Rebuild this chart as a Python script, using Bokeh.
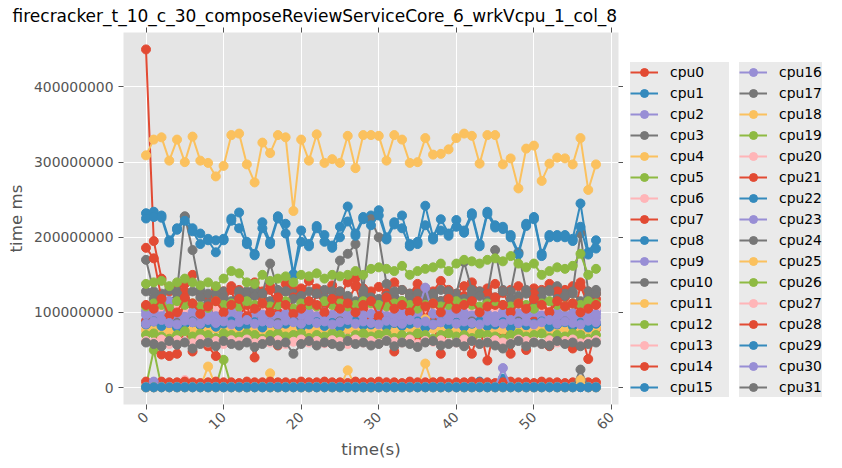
import math
from bokeh.plotting import figure
from bokeh.layouts import row
from bokeh.models import (Range1d, LinearAxis, SingleIntervalTicker, BasicTickFormatter,
                          CustomJSTickFormatter, Legend, LegendItem, ColumnDataSource)
from bokeh.embed import file_html
from bokeh.resources import INLINE

# time axis (seconds)
t = list(range(59))

# values in millions of "time ms"
cpu0 = [450,195,145,128,132,138,150,125,118,132, 128,135,130,124,140,128,135,120,138,130,
        125,142,132,128,136,122,140,145,132,128, 134,126,140,130,125,138,132,128,142,130,
        125,135,140,128,132,138,126,130,135,128, 132,130,138,126,130,135,140,128,125]
cpu1 = [232,234,229,196,212,227,212,205,198,196, 198,225,233,194,178,220,194,228,218,151,
        209,191,215,203,189,214,241,205,227,229, 236,200,220,229,191,194,242,200,224,205,
        223,209,232,191,234,216,214,203,180,218, 227,178,203,203,203,198,245,180,196]
cpu2 = [102,98,105,100,96,104,100,98,103,97, 101,105,99,96,102,100,104,98,101,97,
        103,99,102,96,100,104,98,101,105,99, 97,103,100,98,104,101,96,102,99,103,
        100,97,104,98,101,99,103,96,100,102, 98,104,99,101,97,103,100,98,102]
cpu3 = [170,128,125,130,128,228,183,130,125,120, 128,130,125,128,130,125,165,130,128,125,
        130,128,125,130,128,169,178,191,130,224, 200,138,120,130,125,128,130,125,130,128,
        125,167,130,128,125,183,130,128,179,130, 125,128,130,135,125,128,205,128,130]
cpu4 = [309,330,333,302,330,300,334,302,299,281, 295,336,338,297,273,326,312,336,333,235,
        330,302,337,299,304,299,335,292,336,336, 335,302,336,330,299,300,332,310,311,317,
        332,338,335,298,336,336,297,305,265,318, 322,275,298,306,305,297,332,263,297]
cpu5 = [2,50,1,1,1,1,1,1,1,1, 37,1,1,1,1,1,1,1,1,1,
        1,1,1,1,1,1,1,1,1,1, 1,1,1,1,1,1,1,1,1,1,
        1,1,1,1,1,1,1,1,1,1, 1,1,1,1,1,1,1,1,1]
cpu6 = [108,103,106,101,109,105,102,107,104,106, 101,108,105,104,107,103,106,102,109,105,
        103,107,104,106,100,108,105,103,107,104, 106,102,109,105,103,107,104,106,101,108,
        105,103,107,104,106,102,109,105,103,107, 104,106,101,108,105,103,107,104,106]
cpu7 = [186,172,118,95,60,128,110,72,100,122, 115,130,95,110,75,118,130,100,85,120,
        132,95,125,110,90,128,115,135,105,120, 98,125,112,80,118,130,92,120,115,128,
        100,122,118,95,125,110,128,105,118,95, 125,115,100,128,120,92,135,110,118]
cpu8 = [225,227,226,193,210,222,208,191,196,180, 196,222,212,191,176,212,191,225,205,150,
        194,188,212,194,186,200,221,202,224,216, 229,197,217,212,188,191,216,197,209,202,
        214,206,229,188,231,213,211,200,177,215, 224,175,200,200,200,195,214,177,185]
cpu9 = [90,95,92,96,88,94,91,95,89,93, 96,90,94,92,88,95,91,93,96,89,
        94,90,95,92,88,93,96,91,94,90, 92,95,89,93,91,96,90,94,92,88,
        95,91,93,96,89,94,90,95,92,88, 93,96,91,94,90,92,95,89,93]
cpu10 = [128,118,122,115,125,118,128,120,112,125, 120,115,128,118,122,125,115,120,128,118,
         122,115,125,120,118,128,122,115,125,120, 118,122,128,115,120,125,118,122,115,128,
         120,118,125,122,115,120,128,118,122,125, 115,120,128,118,122,125,115,120,125]
cpu11 = [1,1,1,1,1,1,1,1,28,1, 1,1,1,1,1,1,19,1,1,1,
         1,1,1,1,1,1,23,1,1,1, 1,1,1,1,1,1,32,1,1,1,
         1,1,1,1,1,1,1,1,1,1, 1,1,1,1,1,1,1,1,1]
cpu12 = [138,140,142,135,140,145,140,136,140,135, 145,155,152,140,138,150,142,145,148,140,
         150,148,152,145,150,148,150,155,150,158, 160,158,155,162,150,155,158,160,165,155,
         165,170,168,165,170,172,168,175,165,160, 165,150,155,160,158,162,178,150,158]
cpu13 = [80,83,78,82,85,79,81,84,78,82, 80,85,79,83,81,78,84,80,82,79,
         85,81,78,83,80,84,79,82,81,78, 85,80,83,79,82,84,78,81,80,85,
         79,83,82,78,84,80,81,79,85,82, 78,83,80,84,79,81,82,78,83]
cpu14 = [88,82,44,42,45,78,48,85,55,42, 86,80,74,88,40,84,80,56,86,75,
         90,82,80,60,85,88,78,80,85,90, 75,82,48,80,85,60,80,88,45,85,
         80,70,45,80,36,82,75,45,80,50, 88,82,55,80,85,52,75,38,78]
cpu15 = [0.5,0.5,0.5,0.5,0.5,0.5,0.5,0.5,0.5,0.5, 0.5,0.5,0.5,0.5,0.5,0.5,0.5,0.5,0.5,0.5,
         0.5,0.5,0.5,0.5,0.5,0.5,0.5,0.5,0.5,0.5, 0.5,0.5,0.5,0.5,0.5,0.5,0.5,0.5,0.5,0.5,
         0.5,0.5,0.5,8,0.5,0.5,12,0.5,0.5,0.5, 0.5,0.5,0.5,0.5,0.5,0.5,0.5,0.5,0.5]
cpu16 = [97,100,95,115,98,94,100,96,99,95, 98,101,96,94,99,97,100,95,98,102,
         96,99,94,100,97,95,99,101,96,98, 100,95,97,99,96,101,133,98,95,100,
         97,99,96,101,98,95,100,97,99,96, 101,95,98,100,96,99,97,101,98]
cpu17 = [85,88,82,80,86,84,88,82,85,80, 86,84,82,88,85,80,84,86,82,88,
         84,80,86,85,82,88,84,80,86,82, 85,88,80,84,86,82,88,85,80,84,
         86,82,88,84,80,85,86,82,88,84, 80,86,85,82,88,84,80,86,85]
cpu18 = [76,78,80,75,79,75,77,80,76,78, 79,75,77,80,78,76,79,77,75,80,
         78,76,79,77,80,75,78,76,79,77, 80,78,75,77,79,76,91,78,80,75,
         77,79,76,78,80,75,77,79,78,76, 80,77,75,79,78,76,80,77,79]
cpu19 = [108,112,110,105,115,110,112,108,106,115, 110,112,108,115,110,112,108,110,115,105,
         112,110,108,115,110,112,108,110,115,112, 110,108,112,115,110,105,110,112,108,110,
         115,112,110,108,112,115,110,108,112,110, 105,112,115,110,108,112,110,115,112]
cpu20 = [1,1,1,1,1,10,1,1,1,1, 1,1,1,1,1,1,1,1,1,1,
         1,1,1,1,1,1,1,1,1,1, 1,1,1,1,1,1,1,1,1,1,
         6,1,1,4,1,1,1,1,1,1, 1,1,1,1,1,1,1,1,1]
cpu21 = [8,7,8,7,7,8,7,6,7,8, 7,7,6,8,7,7,8,7,7,6,
         8,7,7,8,7,7,6,8,7,7, 8,7,7,6,8,7,7,7,8,6,
         7,7,8,7,7,6,7,8,7,7, 6,8,7,7,6,7,8,7,7]
cpu22 = [84,88,82,86,80,85,87,83,86,81, 85,88,82,84,87,80,86,83,85,88,
         81,84,87,82,86,80,85,88,83,84, 87,81,86,82,85,88,80,84,87,83,
         86,81,85,88,82,84,87,80,86,83, 85,88,81,84,87,82,86,80,85]
cpu23 = [1,8,1,1,1,1,1,1,1,1, 1,1,1,1,1,1,1,1,1,1,
         1,1,1,1,1,1,1,1,1,1, 1,1,1,1,1,1,1,1,1,1,
         1,1,1,1,1,1,26,1,1,1, 1,1,1,1,1,1,1,1,1]
cpu24 = [0.3,0.3,0.3,0.3,0.3,0.3,0.3,0.3,0.3,0.3, 0.3,0.3,0.3,0.3,0.3,0.3,0.3,0.3,0.3,0.3,
         0.3,0.3,0.3,0.3,0.3,0.3,0.3,0.3,0.3,0.3, 0.3,0.3,0.3,0.3,0.3,0.3,0.3,0.3,0.3,0.3,
         0.3,0.3,0.3,0.3,0.3,0.3,0.3,0.3,0.3,0.3, 0.3,0.3,0.3,0.3,0.3,0.3,24,0.3,0.3]
cpu25 = [0.5,0.5,0.5,0.5,0.5,0.5,0.5,0.5,0.5,0.5, 0.5,0.5,0.5,0.5,0.5,0.5,0.5,0.5,0.5,0.5,
         0.5,0.5,0.5,0.5,0.5,0.5,0.5,0.5,0.5,0.5, 0.5,0.5,0.5,0.5,0.5,0.5,0.5,0.5,0.5,0.5,
         0.5,0.5,0.5,0.5,0.5,0.5,0.5,0.5,0.5,0.5, 0.5,0.5,0.5,0.5,0.5,0.5,10,0.5,0.5]
cpu26 = [70,72,68,65,70,75,68,72,70,66, 72,70,68,72,70,65,70,72,68,70,
         72,66,70,68,72,70,65,70,72,68, 70,72,66,70,68,72,70,65,70,72,
         68,70,66,72,70,68,65,70,72,68, 70,72,66,70,68,72,70,65,70]
cpu27 = [62,60,64,58,63,61,59,64,60,62, 58,63,61,64,59,62,60,63,58,61,
         64,60,62,59,63,61,58,64,60,62, 59,63,61,60,64,58,62,61,63,59,
         60,64,62,58,61,63,60,59,64,62, 61,58,63,60,62,64,59,61,63]
cpu28 = [110,105,118,95,100,120,112,98,108,115, 100,110,118,95,105,112,100,120,110,98,
         105,115,110,100,118,105,112,100,110,115, 95,120,105,110,100,115,108,112,100,118,
         105,110,115,100,108,120,110,100,112,105, 118,110,100,115,108,112,100,105,110]
cpu29 = [0.5,0.5,0.5,0.5,0.5,0.5,0.5,0.5,0.5,0.5, 0.5,0.5,0.5,0.5,0.5,0.5,0.5,0.5,0.5,0.5,
         0.5,0.5,0.5,0.5,0.5,0.5,0.5,0.5,0.5,0.5, 0.5,0.5,0.5,0.5,0.5,0.5,0.5,0.5,0.5,0.5,
         0.5,0.5,0.5,0.5,0.5,0.5,0.5,0.5,0.5,0.5, 0.5,0.5,0.5,0.5,0.5,0.5,0.5,0.5,0.5]
cpu30 = [85,88,90,86,84,89,87,85,90,86, 88,84,87,90,85,88,86,84,89,87,
         85,90,86,88,84,87,90,85,88,86, 84,89,87,85,90,86,88,84,87,90,
         85,88,86,84,89,87,85,90,86,88, 84,87,90,85,88,86,84,89,87]
cpu31 = [60,58,55,62,57,60,52,58,60,55, 62,58,56,60,54,58,62,57,60,45,
         58,62,56,60,58,55,62,58,60,56, 58,62,55,60,58,54,60,62,56,58,
         60,55,62,58,60,56,52,58,62,55, 60,58,56,62,58,60,55,58,60]

series = [cpu0, cpu1, cpu2, cpu3, cpu4, cpu5, cpu6, cpu7, cpu8, cpu9, cpu10, cpu11,
          cpu12, cpu13, cpu14, cpu15, cpu16, cpu17, cpu18, cpu19, cpu20, cpu21, cpu22,
          cpu23, cpu24, cpu25, cpu26, cpu27, cpu28, cpu29, cpu30, cpu31]
names = ["cpu%d" % k for k in range(32)]
SCALE = 1e6

palette = ["#E24A33", "#348ABD", "#988ED5", "#777777", "#FBC15E", "#8EBA42", "#FFB5B8"]
FONT = "DejaVu Sans"

p = figure(width=623, height=468, output_backend="svg", toolbar_location=None,
           x_range=Range1d(-2.9, 60.9), y_range=Range1d(-22.5e6, 472.5e6),
           min_border_left=123, min_border_right=0, min_border_top=32, min_border_bottom=64,
           background_fill_color="#E5E5E5", border_fill_color="white",
           outline_line_color=None,
           title="firecracker_t_10_c_30_composeReviewServiceCore_6_wrkVcpu_1_col_8")

p.title.text_font = FONT
p.title.text_font_size = "17px"
p.title.text_font_style = "normal"
p.title.text_color = "#000000"
p.title.align = "left"
p.title.offset = -111
p.title.standoff = 4

p.xaxis.ticker = SingleIntervalTicker(interval=10)
p.yaxis.ticker = SingleIntervalTicker(interval=100000000)
p.yaxis.formatter = BasicTickFormatter(use_scientific=False)
p.xaxis.major_label_orientation = math.pi / 4
p.xaxis.axis_label = "time(s)"
p.yaxis.axis_label = "time ms"

for ax in [p.xaxis[0], p.yaxis[0]]:
    ax.axis_line_color = None
    ax.major_tick_line_color = "#555555"
    ax.major_tick_out = 5
    ax.major_tick_in = 0
    ax.minor_tick_line_color = None
    ax.major_label_text_color = "#555555"
    ax.major_label_text_font = FONT
    ax.major_label_text_font_size = "13.9px"
    ax.axis_label_text_font = FONT
    ax.axis_label_text_font_style = "normal"
    ax.axis_label_text_color = "#555555"
    ax.axis_label_text_font_size = "16.7px"
p.xaxis.axis_label_standoff = 2
p.yaxis.axis_label_standoff = 5

blank = CustomJSTickFormatter(code="return '';")
right_ax = LinearAxis(ticker=SingleIntervalTicker(interval=100000000), formatter=blank,
                      axis_line_color=None, major_tick_line_color="#555555",
                      major_tick_out=5, major_tick_in=0, minor_tick_line_color=None,
                      major_label_standoff=0)
top_ax = LinearAxis(ticker=SingleIntervalTicker(interval=10), formatter=blank,
                    axis_line_color=None, major_tick_line_color="#555555",
                    major_tick_out=5, major_tick_in=0, minor_tick_line_color=None,
                    major_label_standoff=0)
p.add_layout(right_ax, "right")
p.add_layout(top_ax, "above")

p.xgrid.grid_line_color = "white"
p.ygrid.grid_line_color = "white"
p.xgrid.grid_line_width = 1
p.ygrid.grid_line_width = 1

# separate panel holding the legend
lf = figure(width=219, height=468, output_backend="svg", toolbar_location=None,
            x_range=Range1d(0, 1), y_range=Range1d(0, 1),
            x_axis_location=None, y_axis_location=None, min_border=0,
            background_fill_color="white", border_fill_color="white",
            outline_line_color=None)
lf.xgrid.visible = False
lf.ygrid.visible = False

nan = float("nan")
items = []
for k, ys in enumerate(series):
    c = palette[k % 7]
    src = ColumnDataSource(dict(t=t, v=[y * SCALE for y in ys]))
    p.line("t", "v", source=src, line_color=c, line_width=2)
    p.scatter("t", "v", source=src, size=9, marker="circle", fill_color=c, line_color=c)
    key_src = ColumnDataSource(dict(t=[nan], v=[nan]))
    lr = lf.line("t", "v", source=key_src, line_color=c, line_width=2)
    sr = lf.scatter("t", "v", source=key_src, size=9, marker="circle",
                    fill_color=c, line_color=c)
    items.append(LegendItem(label=names[k], renderers=[lr, sr]))

def make_legend(its, loc, lw):
    return Legend(items=its, location=loc, orientation="vertical",
                  label_text_font=FONT, label_text_font_size="13.9px",
                  label_text_color="#000000", glyph_width=28, glyph_height=20,
                  label_height=20, label_width=lw, label_standoff=12, spacing=1,
                  padding=5, margin=0, border_line_color=None,
                  background_fill_color="#EAEAEA", background_fill_alpha=1.0)

lf.add_layout(make_legend(items[:16], (7, 7), 59), "center")
lf.add_layout(make_legend(items[16:], (116, 7), 40), "center")

layout = row(p, lf)
open("out.html", "w").write(file_html(layout, INLINE))
